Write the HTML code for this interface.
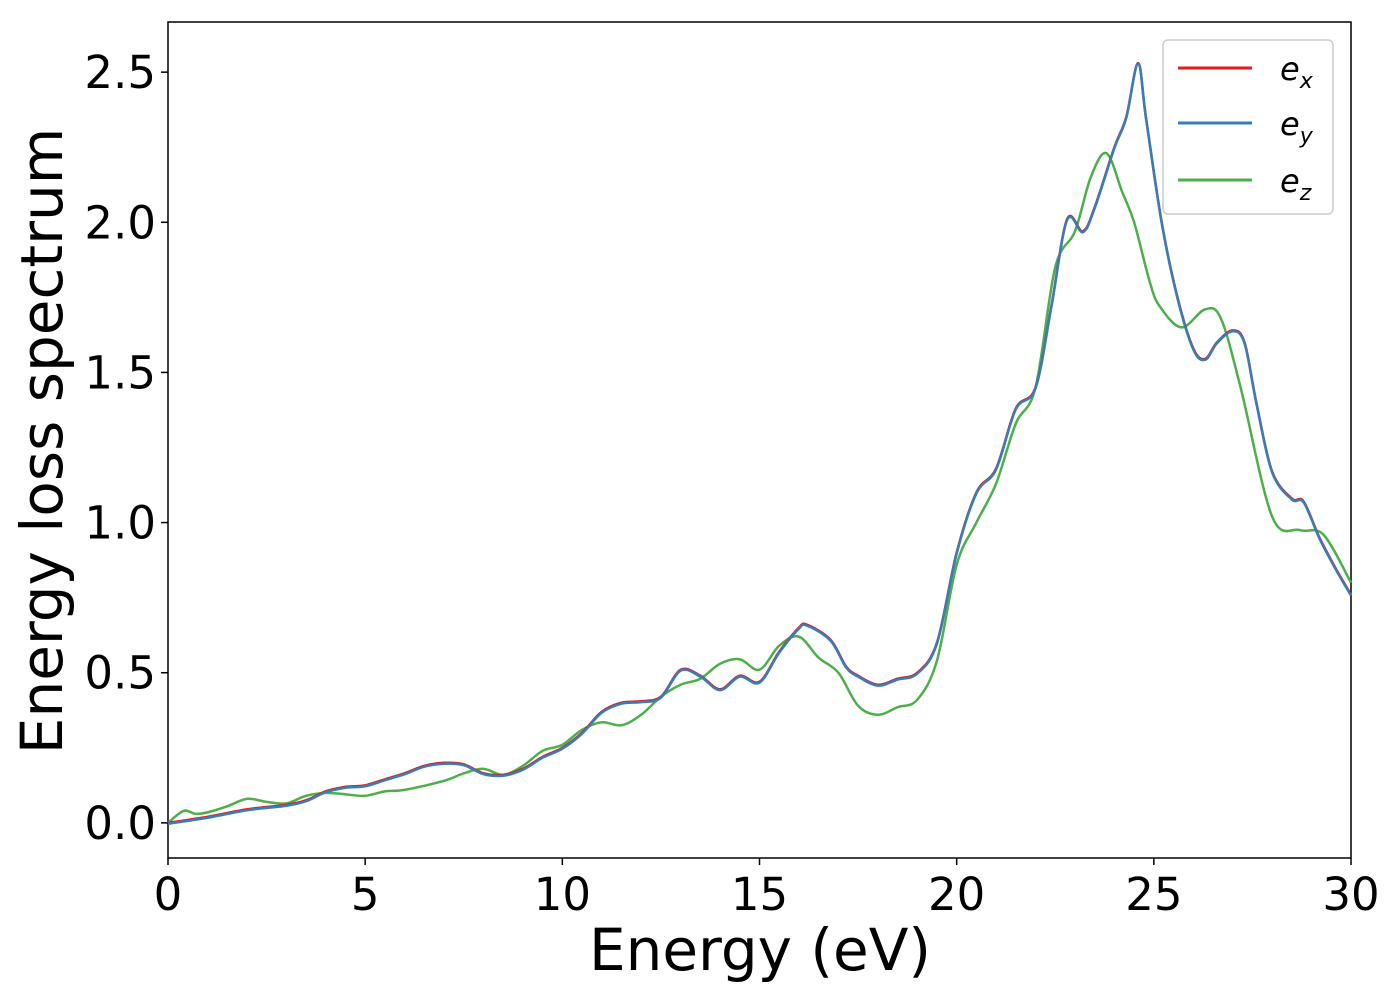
<!DOCTYPE html>
<html><head><meta charset="utf-8"><style>
body{margin:0;background:#fff;}
svg{font-family:"DejaVu Sans","Liberation Sans",sans-serif;}
</style></head><body>
<svg id="chart" width="1400" height="1000">
<rect x="168" y="22" width="1183" height="836" fill="#fff" stroke="#000" stroke-width="1.5"/>
<g id="ticks"></g>
<g id="series"></g>
<text x="760" y="970" font-size="58" text-anchor="middle">Energy (eV)</text>
<text transform="translate(62,441) rotate(-90)" font-size="58" text-anchor="middle">Energy loss spectrum</text>
<g>
<rect x="1163" y="40" width="170" height="174" rx="5" fill="#fff" stroke="#ccc" stroke-width="1.5"/>
<g><line x1="1178" y1="68" x2="1252" y2="68" stroke="#e41a1c" stroke-width="3"/><text x="1280" y="80" font-size="32" font-style="italic">e<tspan font-size="22" dy="8">x</tspan></text></g>
<g><line x1="1178" y1="123" x2="1252" y2="123" stroke="#377eb8" stroke-width="3"/><text x="1280" y="135" font-size="32" font-style="italic">e<tspan font-size="22" dy="8">y</tspan></text></g>
<g><line x1="1178" y1="180" x2="1252" y2="180" stroke="#4daf4a" stroke-width="3"/><text x="1280" y="192" font-size="32" font-style="italic">e<tspan font-size="22" dy="8">z</tspan></text></g>
</g>
</svg>
<script>
const xTicks=[0,5,10,15,20,25,30];
const yTicks=[0.0,0.5,1.0,1.5,2.0,2.5];
const yTickLabels=["0.0","0.5","1.0","1.5","2.0","2.5"];
const exX=[0,1,2,3,3.5,4,4.5,5,5.5,6,6.5,7,7.5,8,8.5,9,9.5,10,10.5,11,11.5,12,12.5,13,13.5,14,14.5,15,15.5,16,16.2,16.8,17.2,17.5,18,18.5,19,19.5,20,20.5,21,21.5,22,22.4,22.8,23.2,23.5,24,24.3,24.6,24.8,25.2,25.6,26,26.3,26.6,27,27.3,27.6,28,28.5,28.8,29.2,29.6,30];
const exY=[0,0.02,0.045,0.06,0.075,0.105,0.12,0.125,0.145,0.165,0.19,0.2,0.195,0.165,0.16,0.18,0.22,0.25,0.3,0.37,0.4,0.405,0.42,0.51,0.49,0.445,0.49,0.47,0.57,0.65,0.66,0.61,0.52,0.49,0.46,0.48,0.5,0.6,0.9,1.1,1.18,1.38,1.45,1.72,2.01,1.97,2.05,2.25,2.35,2.53,2.35,2.0,1.75,1.58,1.545,1.6,1.64,1.6,1.4,1.17,1.08,1.07,0.95,0.85,0.76];
const eyX=exX;
const eyY=exY.map(v=>v-0.003);
const ezX=[0,0.4,0.7,1,1.5,2,2.5,3,3.5,4,4.5,5,5.5,6,7,7.5,8,8.5,9,9.5,10,10.5,11,11.5,12,12.5,13,13.5,14,14.5,15,15.5,16,16.5,17,17.5,18,18.5,19,19.5,20,20.5,21,21.5,22,22.5,23,23.4,23.8,24.2,24.5,24.9,25.15,25.7,26.3,26.7,27.2,28,28.7,29.3,30];
const ezY=[0,0.04,0.03,0.035,0.055,0.08,0.07,0.065,0.09,0.1,0.095,0.09,0.105,0.11,0.14,0.165,0.18,0.16,0.19,0.24,0.26,0.31,0.335,0.325,0.36,0.42,0.46,0.48,0.53,0.545,0.51,0.59,0.62,0.55,0.5,0.39,0.36,0.385,0.41,0.54,0.86,1.0,1.13,1.33,1.45,1.85,1.97,2.15,2.23,2.1,2.0,1.8,1.72,1.65,1.71,1.68,1.45,1.02,0.975,0.96,0.8];
const X0=168,X1=1351,YT=22,YB=858,VMIN=-0.117,VMAX=2.667;
const sx=v=>X0+(v-0)/(30-0)*(X1-X0);
const sy=v=>YB-(v-VMIN)/(VMAX-VMIN)*(YB-YT);
const NS="http://www.w3.org/2000/svg";
const tg=document.getElementById('ticks');
xTicks.forEach(t=>{
 const l=document.createElementNS(NS,'line');l.setAttribute('x1',sx(t));l.setAttribute('x2',sx(t));l.setAttribute('y1',YB);l.setAttribute('y2',YB+7);l.setAttribute('stroke','#000');l.setAttribute('stroke-width','1.5');
 
 
 tg.appendChild(l);
 const tx=document.createElementNS(NS,'text');tx.setAttribute('x',sx(t));tx.setAttribute('y',YB+52);tx.setAttribute('font-size','45');tx.setAttribute('text-anchor','middle');tx.textContent=t;
 
 
 tg.appendChild(tx);
});
yTicks.forEach((t,i)=>{
 const l=document.createElementNS(NS,'line');l.setAttribute('x1',X0-7);l.setAttribute('x2',X0);l.setAttribute('y1',sy(t));l.setAttribute('y2',sy(t));l.setAttribute('stroke','#000');l.setAttribute('stroke-width','1.5');
 
 
 tg.appendChild(l);
 const tx=document.createElementNS(NS,'text');tx.setAttribute('x',X0-12);tx.setAttribute('y',sy(t)+16);tx.setAttribute('font-size','45');tx.setAttribute('text-anchor','end');tx.textContent=yTickLabels[i];
 
 
 tg.appendChild(tx);
});
function pathD(xs,ys){
 const p=xs.map((x,i)=>[sx(x),sy(ys[i])]);
 let d='M'+p[0][0]+','+p[0][1];
 for(let i=0;i<p.length-1;i++){
  const p0=p[Math.max(0,i-1)],p1=p[i],p2=p[i+1],p3=p[Math.min(p.length-1,i+2)];
  const c1=[p1[0]+(p2[0]-p0[0])/6,p1[1]+(p2[1]-p0[1])/6];
  const c2=[p2[0]-(p3[0]-p1[0])/6,p2[1]-(p3[1]-p1[1])/6];
  d+=' C'+c1+' '+c2+' '+p2;
 }
 return d;
}
const sg=document.getElementById('series');
[[ezX,ezY,'#4daf4a','series-ez'],[exX,exY,'#e41a1c','series-ex'],[eyX,eyY,'#377eb8','series-ey']].forEach(s=>{
 const p=document.createElementNS(NS,'path');p.setAttribute('d',pathD(s[0],s[1]));p.setAttribute('fill','none');p.setAttribute('stroke',s[2]);p.setAttribute('stroke-width','2.5');
 
 
 sg.appendChild(p);
});
</script>
</body></html>
